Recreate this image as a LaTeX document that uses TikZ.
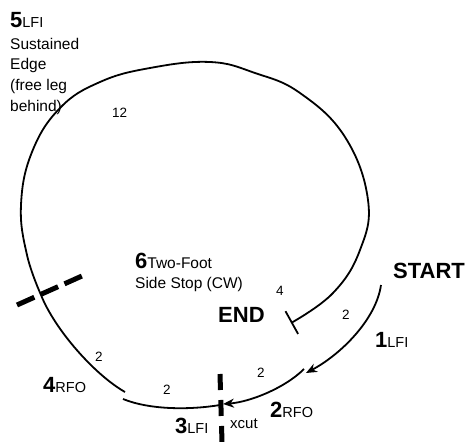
\documentclass[tikz,border=0pt]{standalone}
\usepackage{fontspec}
\setmainfont{Liberation Sans}
\usetikzlibrary{arrows.meta}
\newcommand{\bignum}[2]{{\fontsize{22}{22}\selectfont\bfseries #1}{\fontsize{14.5}{14.5}\selectfont #2}}
\begin{document}
\begin{tikzpicture}[x=1pt,y=-1pt,
  skate/.style={line width=1.8pt},
  cutline/.style={line width=5pt,dash pattern=on 19pt off 7pt},
  lbl/.style={inner sep=0pt,anchor=base west},
  cnt/.style={inner sep=0pt,anchor=base west,font=\fontsize{13.5}{13.5}\selectfont}]
\useasboundingbox (0,0) rectangle (475,442);

\node[lbl] (l5)    at (10,27)      {\bignum{5}{LFI}};
\node[lbl,font=\fontsize{15.5}{15.5}\selectfont] (t5a) at (10,49)  {Sustained};
\node[lbl,font=\fontsize{15.5}{15.5}\selectfont] (t5b) at (10,69)  {Edge};
\node[lbl,font=\fontsize{15.5}{15.5}\selectfont] (t5c) at (10,90)  {(free leg};
\node[lbl,font=\fontsize{15.5}{15.5}\selectfont] (t5d) at (10,111) {behind)};
\node[cnt] (c12)   at (112,117)    {12};

\node[lbl] (l6)    at (135,268)    {\bignum{6}{\fontsize{15.5}{15.5}\selectfont Two-Foot}};
\node[lbl,font=\fontsize{15.5}{15.5}\selectfont] (t6) at (135,288) {Side Stop (CW)};
\node[cnt] (c4)    at (276,295)    {4};
\node[lbl,font=\fontsize{22}{22}\selectfont\bfseries] (endl)   at (218,322) {END};
\node[lbl,font=\fontsize{22}{22}\selectfont\bfseries] (startl) at (393,278) {START};

\node[cnt] (c2a)   at (342,319)    {2};
\node[lbl] (l1)    at (375,347)    {\bignum{1}{LFI}};
\node[cnt] (c2b)   at (257,377)    {2};
\node[lbl] (l2)    at (270,417)    {\bignum{2}{RFO}};
\node[lbl,font=\fontsize{15}{15}\selectfont] (xc) at (230,428) {xcut};
\node[lbl] (l3)    at (175,433)    {\bignum{3}{LFI}};
\node[cnt] (c2c)   at (163,394)    {2};
\node[lbl] (l4)    at (43,392)     {\bignum{4}{RFO}};
\node[cnt] (c2d)   at (95,361)     {2};

\coordinate (start) at (381,285);
\coordinate (tip1)  at (306,373);
\coordinate (s2)    at (304,369);
\coordinate (tip2)  at (223,404);
\coordinate (s3)    at (220,405);
\coordinate (e3)    at (123,399);
\coordinate (s4)    at (125,392);
\coordinate (div)   at (41,295);
\coordinate (endp)  at (291,323);
\coordinate (cutA)  at (17,305);
\coordinate (cutB)  at (82,276);
\coordinate (xA)    at (220,374);
\coordinate (xB)    at (222,442);

% edges 1 to 4
\draw[skate,-{Stealth[length=11pt,width=9pt]}] (start) .. controls (376,320) and (340,355) .. (tip1);
\draw[skate,-{Stealth[length=11pt,width=9pt]}] (s2) .. controls (285,388) and (250,402) .. (tip2);
\draw[skate] (s3) .. controls (190,410) and (150,410) .. (e3);
\draw[skate] (s4) .. controls (95,375) and (55,330) .. (div);

% long edge 5 and stop
\draw[skate,-{Bar[width=26pt]}] plot[smooth,tension=0.7] coordinates {(div) (27,255) (21,205) (32,152) (60,108) (100,82) (150,68) (210,62) (255,73) (300,93) (345,137) (368,200) (360,250) (333,293) (endp)};

% cuts
\draw[cutline] (cutA) -- (cutB);
\draw[cutline,dash pattern=on 16pt off 10pt] (xA) -- (xB);
\end{tikzpicture}
\end{document}
